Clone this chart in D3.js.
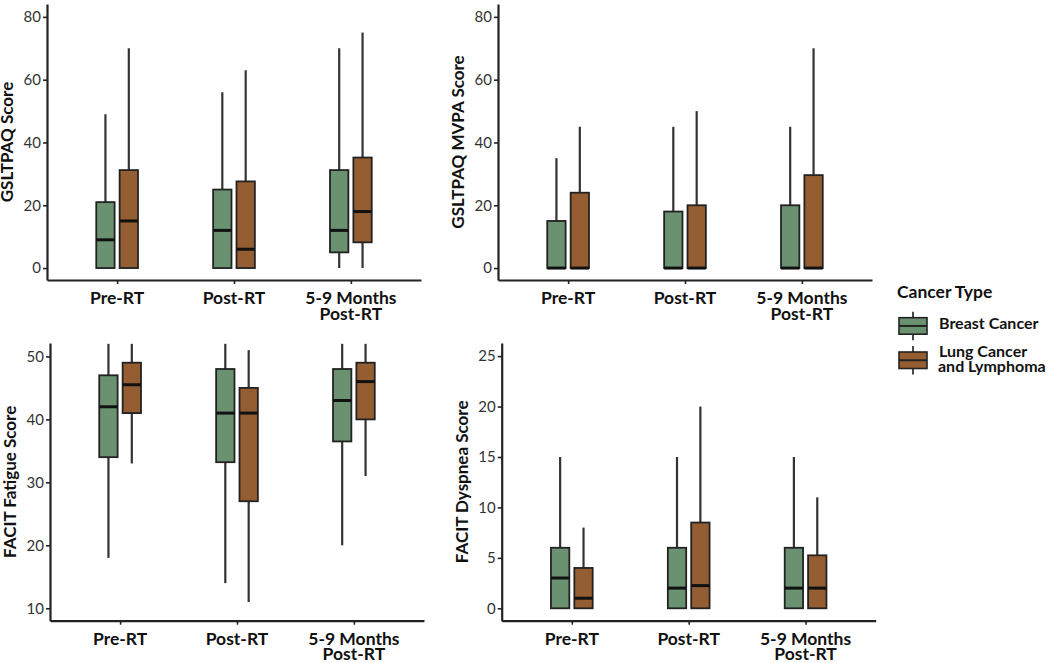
<!DOCTYPE html>
<html>
<head>
<meta charset="utf-8">
<script src="https://cdn.jsdelivr.net/npm/d3@7"></script>
<style>
  body { margin: 0; background: #fff; }
  text { font-family: Lato, "Open Sans", sans-serif; }
</style>
</head>
<body>
<div id="container"></div>
<script>
// categories along x, and the two groups
var categories = ["Pre-RT", "Post-RT", "5-9 Months|Post-RT"];
var groups = ["Breast Cancer", "Lung Cancer|and Lymphoma"];
var colors = ["#6a9270", "#955e32"];

// box stats: [min, q1, median, q3, max] per category
var gsltpaqBreast = [[0, 0, 9, 21, 49], [0, 0, 12, 25, 56], [0, 5, 12, 31.2, 70]];
var gsltpaqLung   = [[0, 0, 15, 31.2, 70], [0, 0, 6, 27.6, 63], [0, 8.2, 18, 35.2, 75]];
var mvpaBreast    = [[0, 0, 0, 15, 35], [0, 0, 0, 18, 45], [0, 0, 0, 20, 45]];
var mvpaLung      = [[0, 0, 0, 24, 45], [0, 0, 0, 20, 50], [0, 0, 0, 29.6, 70]];
var fatigueBreast = [[18, 34, 42, 47, 52], [14, 33.2, 41, 48, 52], [20, 36.5, 43, 48, 52]];
var fatigueLung   = [[33, 41, 45.5, 49, 52], [11, 27, 41, 45, 51], [31, 40, 46, 49, 52]];
var dyspneaBreast = [[0, 0, 3, 6, 15], [0, 0, 2, 6, 15], [0, 0, 2, 6, 15]];
var dyspneaLung   = [[0, 0, 1, 4, 8], [0, 0, 2.25, 8.5, 20], [0, 0, 2, 5.25, 11]];

var titles = ["GSLTPAQ Score", "GSLTPAQ MVPA Score", "FACIT Fatigue Score", "FACIT Dyspnea Score"];
var yTicks = [[0, 20, 40, 60, 80], [0, 20, 40, 60, 80], [10, 20, 30, 40, 50], [0, 5, 10, 15, 20, 25]];

var width = 1050, height = 663;

var panels = [
  {x0: 47,    top: 4,   bottom: 280,   dom: [-3.8, 84.1],  data: [gsltpaqBreast, gsltpaqLung]},
  {x0: 498,   top: 4,   bottom: 280,   dom: [-3.8, 84.1],  data: [mvpaBreast, mvpaLung]},
  {x0: 50,    top: 343, bottom: 620.7, dom: [8.03, 52.13], data: [fatigueBreast, fatigueLung]},
  {x0: 501.7, top: 343, bottom: 620.7, dom: [-1.23, 26.3], data: [dyspneaBreast, dyspneaLung]}
];

var svg = d3.select("#container").append("svg")
    .attr("width", width)
    .attr("height", height);

var dodge = 0.1, boxW = 0.157;

panels.forEach(function (p, pi) {
  var x = d3.scaleLinear().domain([0.4, 3.6]).range([p.x0, p.x0 + 374]);
  var y = d3.scaleLinear().domain(p.dom).range([p.bottom, p.top]);
  var g = svg.append("g");
  var bw = x(boxW) - x(0);

  // y axis
  var ya = g.append("g")
      .attr("transform", "translate(" + p.x0 + ",0)")
      .call(d3.axisLeft(y).tickValues(yTicks[pi]).tickSize(4).tickSizeOuter(0).tickPadding(2));
  // x axis
  var xa = g.append("g")
      .attr("transform", "translate(0," + p.bottom + ")")
      .call(d3.axisBottom(x).tickValues([1, 2, 3]).tickSize(4).tickSizeOuter(0).tickFormat(""));
  [ya, xa].forEach(function (a) {
    a.select(".domain").attr("stroke", "#222").attr("stroke-width", 2.2);
    a.selectAll(".tick line").attr("stroke", "#222").attr("stroke-width", 1.6);
  });
  ya.selectAll(".tick text").attr("font-size", 15).attr("fill", "#333")
    .attr("font-family", "Lato, sans-serif");

  // x labels (may be two lines)
  categories.forEach(function (c, i) {
    var t = g.append("text")
        .attr("x", x(i + 1))
        .attr("y", p.bottom + 24)
        .attr("text-anchor", "middle")
        .attr("font-size", 17.5)
        .attr("font-weight", "bold")
        .attr("fill", "#111");
    c.split("|").forEach(function (line, li) {
      t.append("tspan").attr("x", x(i + 1)).attr("dy", li ? 15.5 : 0).text(line);
    });
  });

  // y title
  g.append("text")
      .attr("transform", "translate(" + (p.x0 - 34) + "," + ((p.top + p.bottom) / 2) + ") rotate(-90)")
      .attr("text-anchor", "middle")
      .attr("font-size", 17)
      .attr("font-weight", "bold")
      .attr("fill", "#111")
      .text(titles[pi]);

  // boxes
  p.data.forEach(function (series, gi) {
    var off = gi === 0 ? -dodge : dodge;
    series.forEach(function (s, i) {
      var cx = x(i + 1 + off);
      g.append("line")
          .attr("x1", cx).attr("x2", cx)
          .attr("y1", y(s[0])).attr("y2", y(s[4]))
          .attr("stroke", "#333").attr("stroke-width", 2.2);
      g.append("rect")
          .attr("x", cx - bw / 2).attr("width", bw)
          .attr("y", y(s[3])).attr("height", y(s[1]) - y(s[3]))
          .attr("fill", colors[gi])
          .attr("stroke", "#222").attr("stroke-width", 1.8);
      g.append("line")
          .attr("x1", cx - bw / 2).attr("x2", cx + bw / 2)
          .attr("y1", y(s[2])).attr("y2", y(s[2]))
          .attr("stroke", "#111").attr("stroke-width", 3);
    });
  });
});

// legend
var leg = svg.append("g").attr("transform", "translate(897,0)");
leg.append("text")
    .attr("x", 0).attr("y", 298)
    .attr("font-size", 17.5).attr("font-weight", "bold").attr("fill", "#111")
    .text("Cancer Type");

var keyTop = [311.7, 346];
groups.forEach(function (gname, i) {
  var k = leg.append("g").attr("transform", "translate(2," + keyTop[i] + ")");
  k.append("line").attr("x1", 14).attr("x2", 14).attr("y1", 0).attr("y2", 28.5)
      .attr("stroke", "#333").attr("stroke-width", 1.8);
  k.append("rect").attr("x", 0).attr("y", 6).attr("width", 28).attr("height", 16.5)
      .attr("fill", colors[i]).attr("stroke", "#222").attr("stroke-width", 1.6);
  k.append("line").attr("x1", 0).attr("x2", 28).attr("y1", 14.25).attr("y2", 14.25)
      .attr("stroke", "#222").attr("stroke-width", 2);
  var lines = gname.split("|");
  var t = k.append("text")
      .attr("x", 40)
      .attr("y", lines.length > 1 ? 11 : 17)
      .attr("font-size", 16).attr("font-weight", "bold").attr("fill", "#111");
  lines.forEach(function (line, li) {
    t.append("tspan").attr("x", li ? 39 : 40).attr("dy", li ? 14.5 : 0).text(line);
  });
});
</script>
</body>
</html>
